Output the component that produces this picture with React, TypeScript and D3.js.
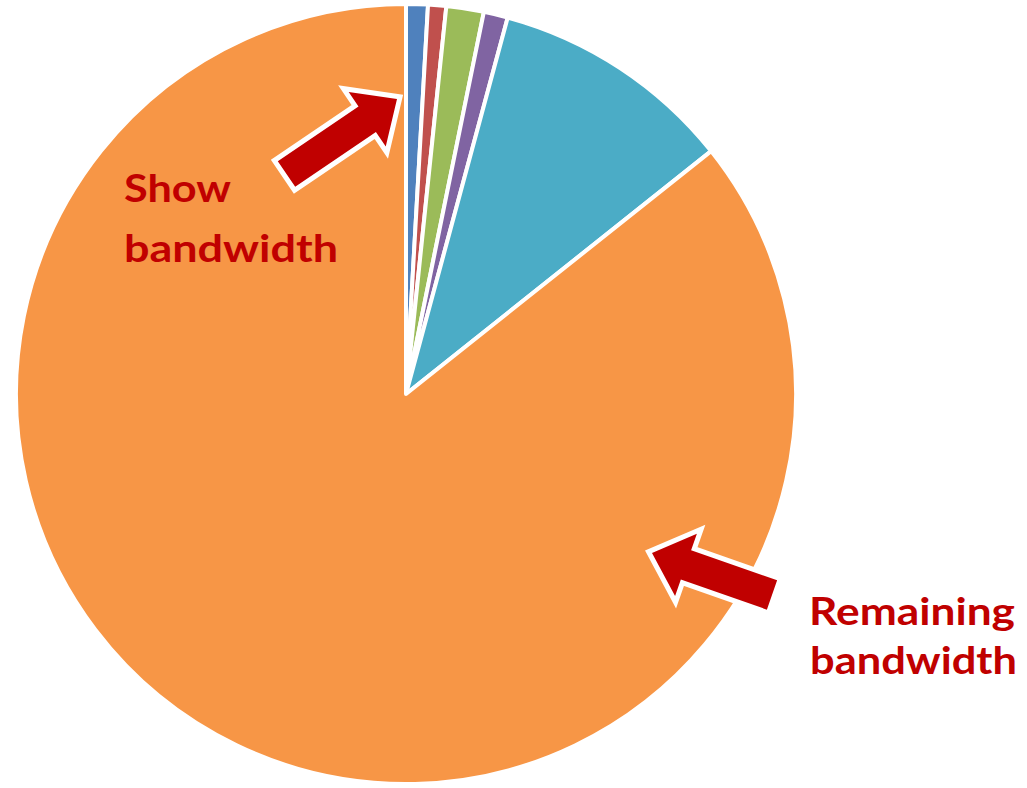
import React from "react";
import * as d3 from "d3";

const categories = ["Show A", "Show B", "Show C", "Show D", "Show E", "Remaining"];
const values = [0.9, 0.75, 1.55, 1.0, 10.1, 85.7];
const colors = ["#4F81BD", "#C0504D", "#9BBB59", "#8064A2", "#4BACC6", "#F79646"];

const W = 1027;
const H = 788;
const CX = 406;
const CY = 394;
const R = 390;

type Arrow = { tail: [number, number]; tip: [number, number] };
const arrows: Arrow[] = [
  { tail: [286.5, 174], tip: [397, 99] },
  { tail: [772, 595], tip: [652, 553] },
];

function arrowPoints(a: Arrow, shaftW = 31, headW = 66, headL = 36): string {
  const [x0, y0] = a.tail;
  const [x1, y1] = a.tip;
  const dx = x1 - x0;
  const dy = y1 - y0;
  const L = Math.hypot(dx, dy);
  const ux = dx / L;
  const uy = dy / L;
  const nx = -uy;
  const ny = ux;
  const local: [number, number][] = [
    [0, -shaftW / 2],
    [L - headL, -shaftW / 2],
    [L - headL, -headW / 2],
    [L, 0],
    [L - headL, headW / 2],
    [L - headL, shaftW / 2],
    [0, shaftW / 2],
  ];
  return local
    .map(([s, t]) => `${x0 + ux * s + nx * t},${y0 + uy * s + ny * t}`)
    .join(" ");
}

export default function App() {
  const pie = d3
    .pie<number>()
    .sort(null)
    .value((d) => d);
  const arcs = pie(values);
  const arc = d3.arc<d3.PieArcDatum<number>>().innerRadius(0).outerRadius(R);

  const textStyle: React.CSSProperties = {
    fontFamily: "Lato, 'Open Sans', sans-serif",
    fontWeight: 700,
    fontSize: 38,
    fill: "#C00000",
  };

  return (
    <svg
      width={W}
      height={H}
      style={{ position: "absolute", left: 0, top: 0, background: "#fff" }}
    >
      <g transform={`translate(${CX},${CY})`}>
        {arcs.map((a, i) => (
          <path
            key={categories[i]}
            d={arc(a) || ""}
            fill={colors[i]}
            stroke="#fff"
            strokeWidth={4}
            strokeLinejoin="round"
          />
        ))}
      </g>
      {arrows.map((a, i) => (
        <g key={i}>
          <polygon
            points={arrowPoints(a)}
            fill="#fff"
            stroke="#fff"
            strokeWidth={10}
            strokeLinejoin="miter"
          />
          <polygon points={arrowPoints(a)} fill="#C00000" />
        </g>
      ))}
      <text x={124} y={202} style={textStyle} textLength={107} lengthAdjust="spacingAndGlyphs">
        Show
      </text>
      <text x={124} y={262} style={textStyle} textLength={214} lengthAdjust="spacingAndGlyphs">
        bandwidth
      </text>
      <text x={809} y={625} style={textStyle} textLength={206} lengthAdjust="spacingAndGlyphs">
        Remaining
      </text>
      <text x={810} y={674} style={textStyle} textLength={207} lengthAdjust="spacingAndGlyphs">
        bandwidth
      </text>
    </svg>
  );
}
